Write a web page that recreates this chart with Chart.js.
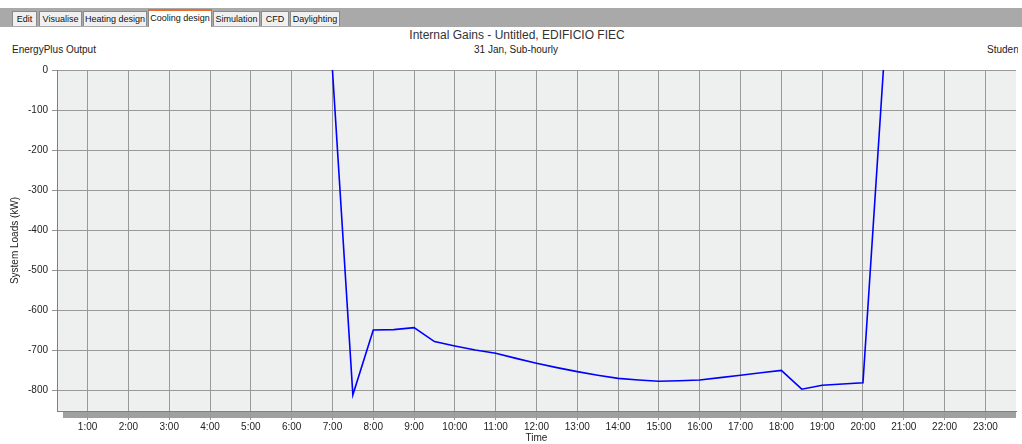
<!DOCTYPE html>
<html>
<head>
<meta charset="utf-8">
<script src="https://cdn.jsdelivr.net/npm/chart.js@4.4.0/dist/chart.umd.min.js"></script>
<style>
    body { margin: 0; background: #fff; width: 1022px; height: 444px; overflow: hidden; position: relative;
           font-family: 'Liberation Sans', Arial, sans-serif; color: #222; }
    #loads { position: absolute; left: 0; top: 0; }
    .tabs { position: absolute; left: 0; top: 8px; width: 1022px; height: 19px; background: #a9a9a9; }
    .tab { position: absolute; top: 3px; height: 15px; background: #f0f0f0; border: 1px solid #8a8a8a;
           border-bottom: none; box-sizing: border-box; font-size: 9px; line-height: 14px; text-align: center; color: #111; }
    .tab.active { top: 1px; height: 18px; background: #fff; border-top: 2px solid #f06a28; line-height: 15px; }
    .txt { position: absolute; white-space: nowrap; }
</style>
</head>
<body>
<div class="tabs">
    <div class="tab" style="left:12px;width:25px">Edit</div>
    <div class="tab" style="left:39px;width:43px">Visualise</div>
    <div class="tab" style="left:83px;width:64px">Heating design</div>
    <div class="tab active" style="left:148px;width:64px">Cooling design</div>
    <div class="tab" style="left:213px;width:47px">Simulation</div>
    <div class="tab" style="left:261px;width:28px">CFD</div>
    <div class="tab" style="left:290px;width:50px">Daylighting</div>
</div>
<div class="txt" style="left:0;width:1034px;top:28px;text-align:center;font-size:12px;color:#333">Internal Gains - Untitled, EDIFICIO FIEC</div>
<div class="txt" style="left:0;width:1032px;top:44px;text-align:center;font-size:10px">31 Jan, Sub-hourly</div>
<div class="txt" style="left:12px;top:44px;font-size:10px">EnergyPlus Output</div>
<div class="txt" style="left:987px;top:44px;width:31px;overflow:hidden;font-size:10px">Student</div>
<canvas id="loads" width="1022" height="444"></canvas>

<script>
// half-hourly cooling load, 31 Jan
const times = [7, 7.5, 8, 8.5, 9, 9.5, 10, 10.5, 11, 11.5, 12, 12.5, 13, 13.5,
               14, 14.5, 15, 15.5, 16, 16.5, 17, 17.5, 18, 18.5, 19, 19.5, 20, 20.5];
const loads = [0, -812, -650, -649, -644, -679, -690, -700, -708, -721, -733, -744, -754, -763,
               -771, -775, -778, -777, -775, -769, -763, -757, -751, -798, -788, -785, -782, 0];
const hourTicks = [1, 2, 3, 4, 5, 6, 7, 8, 9, 10, 11, 12, 13, 14, 15, 16, 17, 18, 19, 20, 21, 22, 23];
const loadTicks = [0, -100, -200, -300, -400, -500, -600, -700, -800];

Chart.defaults.font.family = "'Liberation Sans', Arial, sans-serif";
Chart.defaults.font.size = 10;
Chart.defaults.color = '#222';

const plotBack = {
    id: 'plotBack',
    beforeDraw(chart) {
        const { ctx, chartArea: a } = chart;
        ctx.save();
        ctx.fillStyle = '#eeefef';
        ctx.fillRect(a.left, a.top, a.right - a.left, a.bottom - a.top);
        ctx.fillStyle = '#a0a0a0';
        ctx.fillRect(a.left + 6, a.bottom, a.right - a.left - 6, 7);
        ctx.restore();
    }
};

new Chart(document.getElementById('loads'), {
    type: 'line',
    data: {
        datasets: [{
            data: times.map((t, i) => ({ x: t, y: loads[i] })),
            borderColor: '#0000ff',
            borderWidth: 1.6,
            pointRadius: 0,
            tension: 0,
            fill: false
        }]
    },
    options: {
        responsive: false,
        animation: false,
        devicePixelRatio: 1,
        layout: { padding: { top: 70, right: 6, left: 0, bottom: 0 } },
        plugins: {
            legend: { display: false },
            tooltip: { enabled: false }
        },
        scales: {
            x: {
                type: 'linear',
                min: 0.25,
                max: 23.75,
                afterBuildTicks: s => { s.ticks = hourTicks.map(v => ({ value: v })); },
                afterFit: s => { s.height = 33; },
                ticks: { callback: v => v + ':00', padding: 1, maxRotation: 0, autoSkip: false },
                grid: { color: '#999', tickLength: 9 },
                border: { color: '#808080' },
                title: { display: true, text: 'Time', padding: { top: 0, bottom: 0 } }
            },
            y: {
                min: -852.5,
                max: 0,
                afterBuildTicks: s => { s.ticks = loadTicks.map(v => ({ value: v })); },
                afterFit: s => { s.width = 57; },
                ticks: { padding: 4 },
                grid: { color: '#999', tickLength: 5 },
                border: { color: '#808080' },
                title: { display: true, text: 'System Loads (kW)', padding: { top: 9, bottom: 0 } }
            }
        }
    },
    plugins: [plotBack]
});
</script>
</body>
</html>
